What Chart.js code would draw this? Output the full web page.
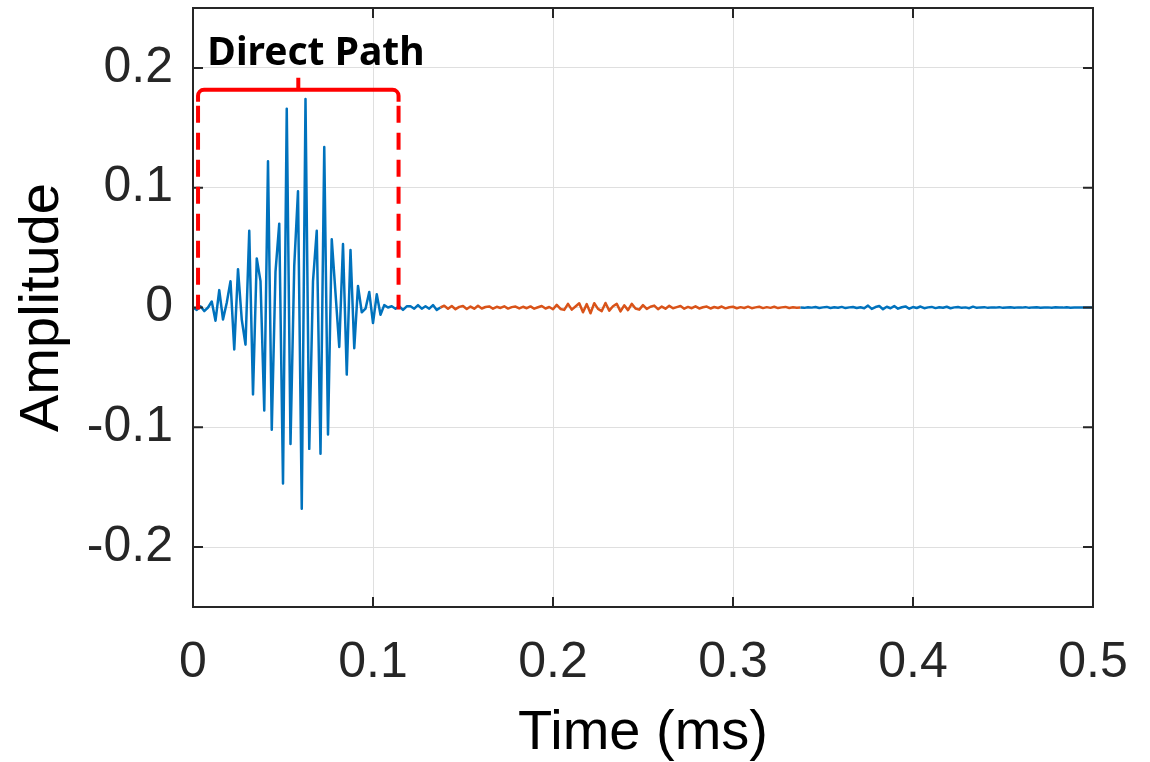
<!DOCTYPE html>
<html>
<head>
<meta charset="utf-8">
<script src="https://cdn.jsdelivr.net/npm/chart.js@4/dist/chart.umd.min.js"></script>
<style>
  html, body { margin: 0; padding: 0; background: #fff; }
  #wrap { width: 1150px; height: 762px; }
</style>
</head>
<body>
<div id="wrap"><canvas id="chartRespuesta" width="1150" height="762"></canvas></div>
<script>
// Respuesta al impulso del canal (amplitud vs tiempo, ms)
const periodoMuestra = 1 / 480; // ms entre muestras

// Tramo del camino directo (azul)
const caminoDirecto = [
  0, -0.002, 0.001, -0.003, 0.000, 0.005, -0.011, 0.0145, -0.010, 0.004,
  0.022, -0.035, 0.032, -0.010, -0.031, 0.064, -0.0725, 0.041, 0.022, -0.086,
  0.122, -0.102, 0.030, 0.070, -0.147, 0.166, -0.114, 0.035, 0.097, -0.168,
  0.174, -0.118, 0.022, 0.064, -0.122, 0.134, -0.106, 0.057, 0.012, -0.033,
  0.053, -0.056, 0.048, -0.034, 0.018, -0.004, -0.001, 0.013, -0.013, 0.011,
  -0.006, 0.002, 0.000, 0.001, -0.001, 0.001, -0.002, 0.001, 0.001, -0.001,
  0.002, -0.001, 0.001, -0.001, 0.002, -0.002
];

// Tramo de reflexiones (naranja)
const reflexiones = [
  0.0000, 0.0015, -0.0010, 0.0012, -0.0014, 0.0005, 0.0013, -0.0012, 0.0008, -0.0010,
  0.0014, -0.0008, 0.0004, 0.0009, -0.0010, 0.0006, -0.0004, 0.0010, -0.0009, 0.0003,
  0.0008, -0.0008, 0.0006, -0.0006, 0.0009, -0.0010, 0.0002, 0.0012, -0.0008, 0.0004,
  -0.0015, 0.0022, -0.0012, -0.0020, 0.0030, -0.0018, 0.0008, 0.0035, -0.0040, 0.0028,
  -0.0048, 0.0036, -0.0012, -0.0030, 0.0038, -0.0026, 0.0010, 0.0030, -0.0032, 0.0018,
  -0.0022, 0.0030, -0.0008, -0.0018, 0.0020, -0.0012, 0.0006, 0.0016, -0.0014, 0.0008,
  -0.0010, 0.0014, -0.0006, 0.0003, 0.0012, -0.0010, 0.0005, -0.0006, 0.0010, -0.0008,
  0.0002, 0.0008, -0.0008, 0.0004, -0.0004, 0.0008, -0.0007, 0.0002, 0.0006, -0.0006,
  0.0003, -0.0004, 0.0007, -0.0006, 0.0001, 0.0006, -0.0005, 0.0003, -0.0003, 0.0006,
  -0.0005, 0.0001, 0.0005, -0.0004, 0.0002, -0.0002, 0.0000
];

// Cola residual (azul)
const residuo = [
  -0.0003, 0.0002, -0.0001, 0.0004, -0.0004, 0.0001, 0.0005, -0.0004, 0.0002, -0.0002,
  0.0005, -0.0005, 0.0001, 0.0004, -0.0004, 0.0002, -0.0006, 0.0016, -0.0012, 0.0004,
  0.0012, -0.0014, 0.0006, -0.0006, 0.0012, -0.0010, 0.0002, 0.0009, -0.0010, 0.0004,
  -0.0004, 0.0008, -0.0006, 0.0001, 0.0005, -0.0005, 0.0002, -0.0002, 0.0006, -0.0006,
  0.0001, 0.0004, -0.0003, 0.0001, -0.0006, 0.0007, -0.0003, 0.0001, 0.0003, -0.0003,
  0.0001, -0.0001, 0.0003, -0.0003, 0.0000, 0.0002, -0.0002, 0.0001, -0.0001, 0.0003,
  -0.0003, 0.0001, 0.0002, -0.0002, 0.0000, 0.0001, -0.0002, 0.0002, 0.0000, -0.0001,
  0.0002, -0.0002, 0.0000, 0.0001, -0.0001, 0.0001, 0.0000, 0.0000
];

const ticksX = [0, 0.1, 0.2, 0.3, 0.4, 0.5];
const ticksY = [-0.2, -0.1, 0, 0.1, 0.2];

// Llave "Direct Path": inicio/fin (ms), nivel de la llave y del texto
const etiquetaDirecto = 'Direct Path';
const tramoDirecto = [0.0028, 0.1142];
const nivelLlave = 0.1817;
const posTexto = [0.0683, 0.2025];

const AZUL = '#0072BD';
const NARANJA = '#D95319';
const EJES = '#262626';

const amplitud = caminoDirecto.concat(reflexiones, residuo);
const puntos = amplitud.map((a, i) => ({ x: i * periodoMuestra, y: a }));
const iniRefl = caminoDirecto.length;
const finRefl = caminoDirecto.length + reflexiones.length - 1;

function fmt(v) {
  return String(Math.round(v * 10) / 10);
}

// Quita el relleno que Chart.js reserva para medias etiquetas en los extremos
function sinRelleno(s) {
  s.paddingLeft = 0;
  s.paddingRight = 0;
  s.paddingTop = 0;
  s.paddingBottom = 0;
}

// Caja completa con marcas hacia dentro en los cuatro lados
const cajaEjes = {
  id: 'cajaEjes',
  afterDatasetsDraw(chart) {
    const { ctx, chartArea: a, scales: { x, y } } = chart;
    const largo = 10;
    ctx.save();
    ctx.strokeStyle = EJES;
    ctx.lineWidth = 2;
    ctx.strokeRect(a.left, a.top, a.right - a.left, a.bottom - a.top);
    ctx.beginPath();
    ticksX.forEach(v => {
      const px = x.getPixelForValue(v);
      ctx.moveTo(px, a.bottom); ctx.lineTo(px, a.bottom - largo);
      ctx.moveTo(px, a.top); ctx.lineTo(px, a.top + largo);
    });
    ticksY.forEach(v => {
      const py = y.getPixelForValue(v);
      ctx.moveTo(a.left, py); ctx.lineTo(a.left + largo, py);
      ctx.moveTo(a.right, py); ctx.lineTo(a.right - largo, py);
    });
    ctx.stroke();
    ctx.restore();
  }
};

// Llave roja con líneas discontinuas que marca el camino directo
const llaveDirecto = {
  id: 'llaveDirecto',
  afterDatasetsDraw(chart) {
    const { ctx, scales: { x, y } } = chart;
    const xl = x.getPixelForValue(tramoDirecto[0]);
    const xr = x.getPixelForValue(tramoDirecto[1]);
    const yTop = y.getPixelForValue(nivelLlave);
    const yCero = y.getPixelForValue(0);
    const xm = (xl + xr) / 2;
    const r = 6;
    ctx.save();
    ctx.strokeStyle = '#ff0000';
    ctx.lineWidth = 4;
    ctx.lineJoin = 'round';
    ctx.beginPath();
    ctx.moveTo(xl, yTop + 12);
    ctx.arcTo(xl, yTop, xl + r, yTop, r);
    ctx.lineTo(xm, yTop);
    ctx.lineTo(xm, yTop - 12);
    ctx.moveTo(xm, yTop);
    ctx.arcTo(xr, yTop, xr, yTop + r, r);
    ctx.lineTo(xr, yTop + 12);
    ctx.stroke();

    ctx.setLineDash([17, 10]);
    ctx.lineDashOffset = 0;
    ctx.beginPath();
    ctx.moveTo(xl, yTop + 16); ctx.lineTo(xl, yCero + 2);
    ctx.moveTo(xr, yTop + 16); ctx.lineTo(xr, yCero + 2);
    ctx.stroke();
    ctx.setLineDash([]);

    ctx.fillStyle = '#000';
    ctx.font = 'bold 39px "Noto Sans"';
    ctx.textAlign = 'center';
    ctx.textBaseline = 'alphabetic';
    ctx.fillText(etiquetaDirecto, x.getPixelForValue(posTexto[0]), y.getPixelForValue(posTexto[1]));
    ctx.restore();
  }
};

const ctx = document.getElementById('chartRespuesta').getContext('2d');
new Chart(ctx, {
  type: 'line',
  data: {
    datasets: [{
      data: puntos,
      borderColor: AZUL,
      borderWidth: 2.5,
      borderJoinStyle: 'round',
      pointRadius: 0,
      tension: 0,
      fill: false,
      segment: {
        borderColor: c => (c.p0DataIndex >= iniRefl && c.p1DataIndex <= finRefl) ? NARANJA : AZUL
      }
    }]
  },
  options: {
    responsive: false,
    devicePixelRatio: 1,
    animation: false,
    layout: { padding: { top: 8, right: 57, left: 0, bottom: 0 } },
    plugins: {
      legend: { display: false },
      tooltip: { enabled: false }
    },
    scales: {
      x: {
        type: 'linear',
        min: 0,
        max: 0.5,
        afterFit: s => { s.height = 155; sinRelleno(s); },
        afterBuildTicks: s => { s.ticks = ticksX.map(v => ({ value: v })); },
        grid: { color: '#dfdfdf', lineWidth: 1, drawTicks: false },
        border: { display: false },
        ticks: {
          padding: 26,
          color: EJES,
          font: { family: '"Liberation Sans", Arial, sans-serif', size: 50 },
          maxRotation: 0,
          autoSkip: false,
          callback: v => fmt(v)
        },
        title: {
          display: true,
          text: 'Time (ms)',
          color: '#000',
          font: { family: '"Liberation Sans", Arial, sans-serif', size: 56, lineHeight: 1 },
          padding: { top: 0, bottom: 0 }
        }
      },
      y: {
        type: 'linear',
        min: -0.25,
        max: 0.25,
        afterFit: s => { s.width = 193; sinRelleno(s); },
        afterBuildTicks: s => { s.ticks = ticksY.map(v => ({ value: v })); },
        grid: { color: '#dfdfdf', lineWidth: 1, drawTicks: false },
        border: { display: false },
        ticks: {
          padding: 20,
          color: EJES,
          font: { family: '"Liberation Sans", Arial, sans-serif', size: 50 },
          autoSkip: false,
          callback: v => fmt(v)
        },
        title: {
          display: true,
          text: 'Amplitude',
          color: '#000',
          font: { family: '"Liberation Sans", Arial, sans-serif', size: 56, lineHeight: 1 },
          padding: { top: 15, bottom: 0 }
        }
      }
    }
  },
  plugins: [cajaEjes, llaveDirecto]
});
</script>
</body>
</html>
